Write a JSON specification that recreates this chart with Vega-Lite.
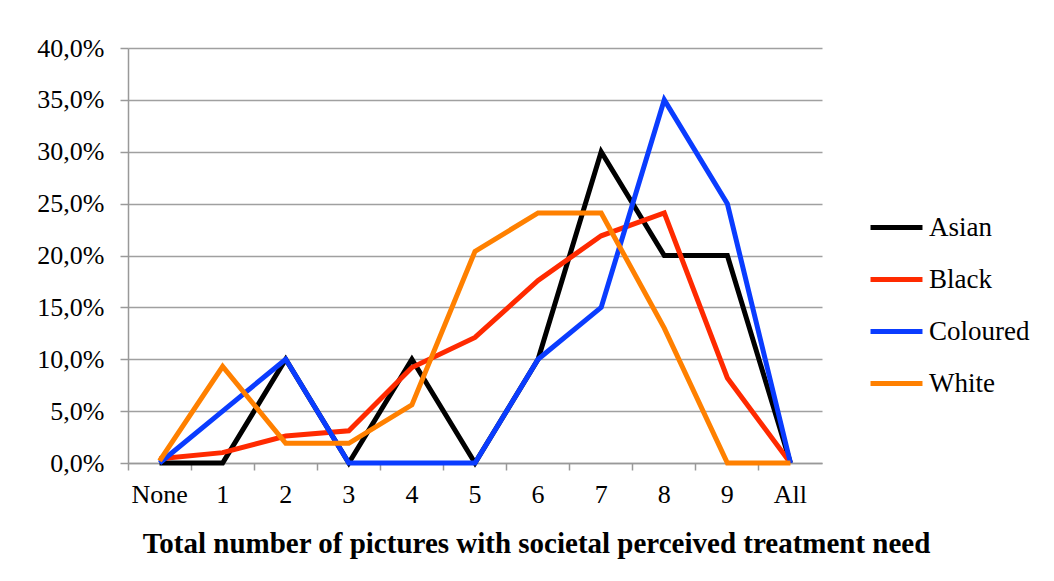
{
  "$schema": "https://vega.github.io/schema/vega-lite/v6.json",
  "width": 694,
  "height": 415,
  "autosize": {"type": "none"},
  "padding": {"left": 128, "top": 48, "right": 232, "bottom": 118},
  "background": "white",
  "config": {
    "view": {"stroke": null},
    "font": "Liberation Serif"
  },
  "data": {
    "values": [
      {"n": "None", "group": "Asian", "pct": 0},
      {"n": "1", "group": "Asian", "pct": 0},
      {"n": "2", "group": "Asian", "pct": 0.10},
      {"n": "3", "group": "Asian", "pct": 0},
      {"n": "4", "group": "Asian", "pct": 0.10},
      {"n": "5", "group": "Asian", "pct": 0},
      {"n": "6", "group": "Asian", "pct": 0.10},
      {"n": "7", "group": "Asian", "pct": 0.30},
      {"n": "8", "group": "Asian", "pct": 0.20},
      {"n": "9", "group": "Asian", "pct": 0.20},
      {"n": "All", "group": "Asian", "pct": 0},
      {"n": "None", "group": "Black", "pct": 0.004},
      {"n": "1", "group": "Black", "pct": 0.010},
      {"n": "2", "group": "Black", "pct": 0.026},
      {"n": "3", "group": "Black", "pct": 0.031},
      {"n": "4", "group": "Black", "pct": 0.092},
      {"n": "5", "group": "Black", "pct": 0.121},
      {"n": "6", "group": "Black", "pct": 0.176},
      {"n": "7", "group": "Black", "pct": 0.219},
      {"n": "8", "group": "Black", "pct": 0.241},
      {"n": "9", "group": "Black", "pct": 0.082},
      {"n": "All", "group": "Black", "pct": 0},
      {"n": "None", "group": "Coloured", "pct": 0},
      {"n": "1", "group": "Coloured", "pct": 0.05},
      {"n": "2", "group": "Coloured", "pct": 0.10},
      {"n": "3", "group": "Coloured", "pct": 0},
      {"n": "4", "group": "Coloured", "pct": 0},
      {"n": "5", "group": "Coloured", "pct": 0},
      {"n": "6", "group": "Coloured", "pct": 0.10},
      {"n": "7", "group": "Coloured", "pct": 0.15},
      {"n": "8", "group": "Coloured", "pct": 0.35},
      {"n": "9", "group": "Coloured", "pct": 0.25},
      {"n": "All", "group": "Coloured", "pct": 0},
      {"n": "None", "group": "White", "pct": 0.002},
      {"n": "1", "group": "White", "pct": 0.093},
      {"n": "2", "group": "White", "pct": 0.019},
      {"n": "3", "group": "White", "pct": 0.019},
      {"n": "4", "group": "White", "pct": 0.056},
      {"n": "5", "group": "White", "pct": 0.204},
      {"n": "6", "group": "White", "pct": 0.241},
      {"n": "7", "group": "White", "pct": 0.241},
      {"n": "8", "group": "White", "pct": 0.130},
      {"n": "9", "group": "White", "pct": 0},
      {"n": "All", "group": "White", "pct": 0}
    ]
  },
  "mark": {"type": "line", "strokeWidth": 5, "strokeJoin": "miter", "strokeCap": "butt"},
  "encoding": {
    "x": {
      "field": "n",
      "type": "ordinal",
      "sort": ["None", "1", "2", "3", "4", "5", "6", "7", "8", "9", "All"],
      "bandPosition": 0.5,
      "scale": {"type": "band", "paddingInner": 0, "paddingOuter": 0},
      "axis": {
        "title": "Total number of pictures with societal perceived treatment need",
        "titleFont": "Liberation Serif",
        "titleFontSize": 29,
        "titleFontWeight": "bold",
        "titleColor": "black",
        "titleAnchor": "start",
        "titleAlign": "center",
        "titleX": 408,
        "titleY": 89,
        "titleBaseline": "alphabetic",
        "bandPosition": 0,
        "labelAngle": 0,
        "labelFontSize": 26,
        "labelColor": "black",
        "labelPadding": 11,
        "tickSize": 7,
        "tickColor": "#999999",
        "tickWidth": 1.5,
        "domainColor": "#999999",
        "domainWidth": 1.5,
        "grid": false
      }
    },
    "y": {
      "field": "pct",
      "type": "quantitative",
      "scale": {"domain": [0, 0.4], "nice": false},
      "axis": {
        "title": null,
        "values": [0, 0.05, 0.1, 0.15, 0.2, 0.25, 0.3, 0.35, 0.4],
        "labelExpr": "replace(format(datum.value, '.1%'), '.', ',')",
        "labelFontSize": 26,
        "labelColor": "black",
        "labelPadding": 16,
        "tickSize": 8,
        "tickColor": "#999999",
        "tickWidth": 1.5,
        "domainColor": "#999999",
        "domainWidth": 1.5,
        "grid": true,
        "gridColor": "#a0a0a0",
        "gridWidth": 1.5
      }
    },
    "color": {
      "field": "group",
      "type": "nominal",
      "scale": {
        "domain": ["Asian", "Black", "Coloured", "White"],
        "range": ["#000000", "#ff2a00", "#0a3cff", "#ff8000"]
      },
      "legend": {
        "title": null,
        "orient": "none",
        "legendX": 740,
        "legendY": 151,
        "padding": 0,
        "symbolType": "stroke",
        "symbolSize": 2700,
        "symbolStrokeWidth": 5,
        "rowPadding": 10,
        "labelFontSize": 27,
        "labelColor": "black",
        "labelOffset": 4
      }
    }
  }
}
